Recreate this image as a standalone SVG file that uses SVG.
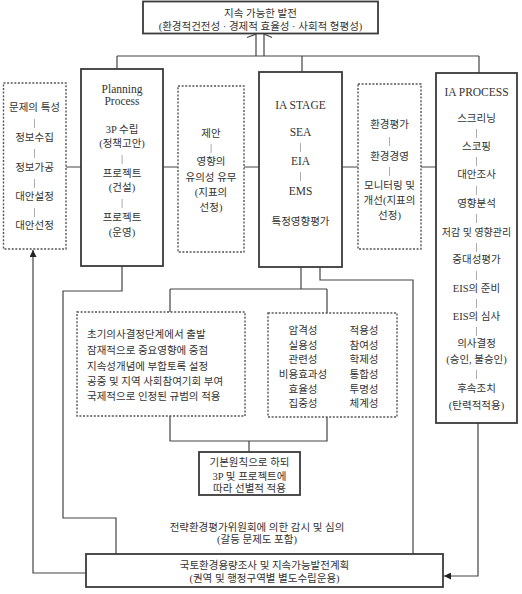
<svg xmlns="http://www.w3.org/2000/svg" width="522" height="594" viewBox="0 0 522 594">
  <defs>
    <marker id="arrowFill" viewBox="0 0 10 10" refX="10" refY="5" markerWidth="7" markerHeight="7" orient="auto-start-reverse" markerUnits="userSpaceOnUse">
      <path d="M0,0 L10,5 L0,10 Z" fill="#222"/>
    </marker>
    <!-- pass-through filter so thin separators are rasterised in greyscale -->
    <filter id="flat" x="-50%" y="-50%" width="200%" height="200%">
      <feOffset dx="0" dy="0"/>
    </filter>
  </defs>
  <style>
    text { font-family: "Liberation Serif", "Noto Sans CJK KR", serif; font-size: 10.5px; fill: #333; text-anchor: middle; }
    .lat { font-size: 11.5px; }
    .left { text-anchor: start; }
    .bar { fill: #666; filter: url(#flat); }
    .solid { fill: #fff; stroke: #3a3a3a; stroke-width: 1.8; }
    .dotted { fill: #fff; stroke: #555; stroke-width: 1.4; stroke-dasharray: 2 1.6; }
    .conn { fill: none; stroke: #444; stroke-width: 1.2; }
  </style>
  <rect width="522" height="594" fill="#fff"/>

  <!-- connectors -->
  <g id="connectors">
    <!-- double line up to the goal box -->
    <path class="conn" d="M256,34 V56 M264,34 V56"/>
    <path class="conn" d="M247,37.5 L256,34 M264,34 L272,37.5"/>
    <!-- top bus -->
    <path class="conn" d="M117,56 H479 M117,56 V69 M302,56 V72 M479,56 V73"/>
    <!-- side links -->
    <path class="conn" d="M66,167 H81 M163,167 H178 M244,167 H259 M342,167 H358 M421,167 H436"/>
    <!-- planning to bottom box -->
    <path class="conn" d="M122,266 V291 H63 V518 H116 V554"/>
    <!-- bottom box back to the left dotted box -->
    <path class="conn" d="M86,573 H33 V250" marker-end="url(#arrowFill)"/>
    <!-- IA stage down to principles -->
    <path class="conn" d="M301,267 V289 M170,289 H327 M170,289 V312 M327,289 V313"/>
    <path class="conn" d="M320,267 V280 H413 V554"/>
    <!-- principles merge -->
    <path class="conn" d="M170,416 V441 H327 V417 M249,441 V452"/>
    <!-- IA process to bottom box -->
    <path class="conn" d="M478,423 V576 H444" marker-end="url(#arrowFill)"/>
  </g>

  <!-- goal -->
  <g id="goal">
    <rect class="solid" x="143" y="1.5" width="235" height="32"/>
    <text x="260.5" y="17">지속 가능한 발전</text>
    <text x="260.5" y="29.5">(환경적건전성 · 경제적 효율성 · 사회적 형평성)</text>
  </g>

  <!-- problem steps -->
  <g id="problem-steps">
    <rect class="dotted" x="3.5" y="83" width="62.5" height="166"/>
    <text x="34.5" y="111">문제의 특성</text>
    <text class="bar" x="34.5" y="126">|</text>
    <text x="34.5" y="141">정보수집</text>
    <text class="bar" x="34.5" y="156">|</text>
    <text x="34.5" y="171">정보가공</text>
    <text class="bar" x="34.5" y="186">|</text>
    <text x="34.5" y="200">대안설정</text>
    <text class="bar" x="34.5" y="215">|</text>
    <text x="34.5" y="229">대안선정</text>
  </g>

  <!-- planning process -->
  <g id="planning-process">
    <rect class="solid" x="81" y="69" width="82" height="197"/>
    <text class="lat" x="122" y="93">Planning</text>
    <text class="lat" x="122" y="105">Process</text>
    <text x="122" y="133">3P 수립</text>
    <text x="122" y="147">(정책고안)</text>
    <text class="bar" x="122" y="162">|</text>
    <text x="122" y="177">프로젝트</text>
    <text x="122" y="191">(건설)</text>
    <text class="bar" x="122" y="206">|</text>
    <text x="122" y="221">프로젝트</text>
    <text x="122" y="236">(운영)</text>
  </g>

  <!-- proposal -->
  <g id="proposal">
    <rect class="dotted" x="178" y="86" width="66" height="166"/>
    <text x="211" y="137">제안</text>
    <text class="bar" x="211" y="151">|</text>
    <text x="211" y="165">영향의</text>
    <text x="211" y="181">유의성 유무</text>
    <text x="211" y="196">(지표의</text>
    <text x="211" y="211">선정)</text>
  </g>

  <!-- IA stage -->
  <g id="ia-stage">
    <rect class="solid" x="259" y="72" width="83" height="195"/>
    <text class="lat" x="300.5" y="109">IA STAGE</text>
    <text class="lat" x="300.5" y="136">SEA</text>
    <text class="bar" x="300.5" y="150">|</text>
    <text class="lat" x="300.5" y="165">EIA</text>
    <text class="bar" x="300.5" y="179">|</text>
    <text class="lat" x="300.5" y="195">EMS</text>
    <text x="300.5" y="225">특정영향평가</text>
  </g>

  <!-- environmental management -->
  <g id="env-management">
    <rect class="dotted" x="358" y="84" width="63" height="165"/>
    <text x="389.5" y="128">환경평가</text>
    <text class="bar" x="389.5" y="144">|</text>
    <text x="389.5" y="160">환경경영</text>
    <text class="bar" x="389.5" y="174">|</text>
    <text x="389.5" y="189">모니터링 및</text>
    <text x="389.5" y="204">개선(지표의</text>
    <text x="389.5" y="219">선정)</text>
  </g>

  <!-- IA process -->
  <g id="ia-process">
    <rect class="solid" x="436" y="73" width="81" height="350"/>
    <text class="lat" x="476.5" y="96">IA PROCESS</text>
    <text x="476.5" y="122">스크리닝</text>
    <text class="bar" x="476.5" y="136">|</text>
    <text x="476.5" y="150">스코핑</text>
    <text class="bar" x="476.5" y="164">|</text>
    <text x="476.5" y="178">대안조사</text>
    <text class="bar" x="476.5" y="193">|</text>
    <text x="476.5" y="207">영향분석</text>
    <text class="bar" x="476.5" y="221">|</text>
    <text x="476.5" y="236" style="font-size:10px">저감 및 영향관리</text>
    <text class="bar" x="476.5" y="250">|</text>
    <text x="476.5" y="263">중대성평가</text>
    <text class="bar" x="476.5" y="278">|</text>
    <text x="476.5" y="292">EIS의 준비</text>
    <text class="bar" x="476.5" y="306">|</text>
    <text x="476.5" y="320">EIS의 심사</text>
    <text class="bar" x="476.5" y="334">|</text>
    <text x="476.5" y="347">의사결정</text>
    <text x="476.5" y="363">(승인, 불승인)</text>
    <text class="bar" x="476.5" y="377">|</text>
    <text x="476.5" y="392">후속조치</text>
    <text x="476.5" y="409">(탄력적적용)</text>
  </g>

  <!-- principles -->
  <g id="principles">
    <rect class="dotted" x="77" y="312" width="168" height="104"/>
    <text class="left" x="87" y="338">초기의사결정단계에서 출발</text>
    <text class="left" x="87" y="354">잠재적으로 중요영향에 중점</text>
    <text class="left" x="87" y="370">지속성개념에 부합토록 설정</text>
    <text class="left" x="87" y="385">공중 및 지역 사회참여기회 부여</text>
    <text class="left" x="87" y="400">국제적으로 인정된 규범의 적용</text>
  </g>

  <!-- criteria -->
  <g id="criteria">
    <rect class="dotted" x="268" y="313" width="129" height="104"/>
    <text x="303" y="334">암격성</text>
    <text x="303" y="349">실용성</text>
    <text x="303" y="363">관련성</text>
    <text x="303" y="378">비용효과성</text>
    <text x="303" y="393">효율성</text>
    <text x="303" y="407">집중성</text>
    <text x="364" y="334">적용성</text>
    <text x="364" y="349">참여성</text>
    <text x="364" y="363">학제성</text>
    <text x="364" y="378">통합성</text>
    <text x="364" y="393">투명성</text>
    <text x="364" y="407">체계성</text>
  </g>

  <!-- selective application -->
  <g id="selective-application">
    <rect class="solid" x="199" y="452" width="101" height="43"/>
    <text x="249.5" y="466">기본원칙으로 하되</text>
    <text x="249.5" y="480">3P 및 프로젝트에</text>
    <text x="249.5" y="492">따라 선별적 적용</text>
  </g>

  <!-- committee -->
  <g id="committee">
    <text x="257" y="531">전략환경평가위원회에 의한 감시 및 심의</text>
    <text x="257" y="543">(갈등 문제도 포함)</text>
  </g>

  <!-- national plan -->
  <g id="national-plan">
    <rect class="solid" x="86" y="554" width="357" height="33"/>
    <text x="264.5" y="569">국토환경용량조사 및 지속가능발전계획</text>
    <text x="264.5" y="581.5">(권역 및 행정구역별 별도수립운용)</text>
  </g>
</svg>
